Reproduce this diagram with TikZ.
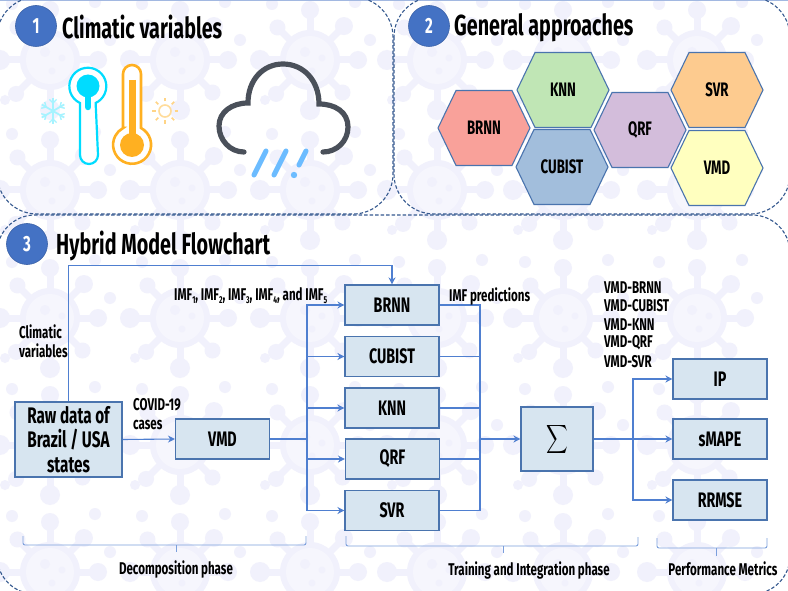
\documentclass[tikz,border=0pt]{standalone}
\usepackage{graphicx}
\usepackage{fontspec}
\setmainfont[FakeStretch=0.68,UprightFont=*-Bold,BoldFont=*-Bold]{Fira Sans}
\usetikzlibrary{arrows.meta,calc}
\definecolor{spike}{HTML}{F1F1FC}
\definecolor{vbody}{HTML}{F6F6FD}
\definecolor{boxfill}{HTML}{D7E5F0}
\definecolor{boxline}{HTML}{4A74AE}
\definecolor{flow}{HTML}{4F7FD0}
\definecolor{panelline}{HTML}{35598F}
\definecolor{badge}{HTML}{4472C4}
\definecolor{coldc}{HTML}{00DCFF}
\definecolor{warmc}{HTML}{FFB021}
\definecolor{cloudc}{HTML}{4A505A}
\definecolor{rainc}{HTML}{6CBCFF}
\definecolor{hg}{HTML}{C0E6B5}
\definecolor{hr}{HTML}{F9A19A}
\definecolor{hb}{HTML}{A2BEDC}
\definecolor{hp}{HTML}{D3BDDB}
\definecolor{ho}{HTML}{FDCB8F}
\definecolor{hy}{HTML}{FFFFBF}
\tikzset{
  boxnode/.style={draw=boxline,fill=boxfill,line width=1.1pt,minimum width=94pt,minimum height=40pt,inner sep=0pt,font=\fontsize{21}{21}\selectfont},
  flowline/.style={draw=flow,line width=1.1pt},
  flowarrow/.style={flowline,-{Stealth[length=7pt,width=7pt]}},
  panel/.style={draw=panelline,line width=1.1pt,dash pattern=on 3.5pt off 2pt,rounded corners=40pt},
  badgenode/.style={circle,fill=badge,draw=badge!85!black,line width=0.6pt,minimum size=41pt,inner sep=0pt,text=white,font=\fontsize{22}{22}\selectfont},
  titlenode/.style={anchor=west,inner sep=0pt,font=\fontsize{29}{29}\selectfont},
  lab/.style={inner sep=0pt,font=\fontsize{17}{17}\selectfont},
  labw/.style={lab,anchor=west},
  hexlabel/.style={inner sep=0pt,font=\fontsize{19.5}{19.5}\selectfont},
  bracket/.style={draw=flow!75!white,line width=0.9pt,rounded corners=2pt},
}
\newcommand{\hexa}[5]{%
  \fill[#4,draw=boxline,line width=1.1pt] (#2-46,#3) -- (#2-28,#3-37.5) -- (#2+28,#3-37.5) -- (#2+46,#3) -- (#2+28,#3+37.5) -- (#2-28,#3+37.5) -- cycle;
  \node[hexlabel] (#1) at (#2,#3) {#5};}
\newcommand{\virus}[2]{%
  \begin{scope}[shift={(#1,#2)}]
    \foreach \a/\r/\s in {90/50/10,45/46/8,0/48/9,-45/48/9,-90/50/9,-135/46/8,180/50/10,135/48/8}{
      \draw[spike,line width=7pt] (0,0) -- (\a:\r);
      \fill[spike] (\a:\r) circle (\s);
    }
    \fill[spike] (0,0) circle (30);
    \fill[vbody] (0,0) circle (24);
    \fill[spike] (-5,-8) circle (5) (12,-2) circle (3.5) (2,11) circle (3.5);
    \fill[spike] (-38,-56) circle (6) (45,-58) circle (6) (-45,40) circle (5) (60,-20) circle (6);
  \end{scope}}
\newcommand{\sbs}[1]{\raisebox{-3pt}{\fontsize{10}{10}\selectfont #1}}
\begin{document}
\begin{tikzpicture}[x=1pt,y=-1pt]
\useasboundingbox (0,0) rectangle (788,591);
\clip (0,0) rectangle (788,591);
\fill[white] (0,0) rectangle (788,591);
% background motif
\foreach \y in {60,190,318,445,572}{
  \foreach \x in {50,180,310,437,563,697}{
    \virus{\x}{\y}
  }
}
\draw[color=badge!50!white,line width=1pt] (0,0.5) -- (788,0.5);
% panels
\draw[panel] (-3,-3) rectangle (393,214);
\draw[panel] (394,-3) rectangle (790,214);
\draw[panel,rounded corners=38pt] (-3,215) rectangle (790,594);
% panel 1
\node[badgenode] (b1) at (36,26) {1};
\node[titlenode] (t1) at (62,27) {Climatic variables};
% cold thermometer
\draw[coldc,line width=2.2pt,fill=white] (80,103) arc[start angle=115,end angle=425,radius=18.5] -- (98,155) arc[start angle=0,end angle=180,radius=9] -- cycle;
\fill[coldc] (88,86) circle (11.5);
\draw[coldc,line width=6.5pt,line cap=round] (88,92) -- (88,107);
% warm thermometer
\draw[warmc,line width=2.6pt,fill=white] (123,128) -- (123,74) arc[start angle=180,end angle=360,radius=9] -- (141,128) arc[start angle=-62,end angle=242,radius=19] -- cycle;
\fill[warmc] (132,145) circle (12);
\draw[warmc,line width=7pt] (132,80) -- (132,140);
% snowflake
\begin{scope}[shift={(53,111)}]
  \foreach \a in {30,90,150,210,270,330}{
    \draw[coldc!35!white,line width=1.8pt] (0,0) -- (\a:13);
    \draw[coldc!35!white,line width=1.4pt] (\a:8) -- ++(\a+45:5);
    \draw[coldc!35!white,line width=1.4pt] (\a:8) -- ++(\a-45:5);
  }
\end{scope}
% sun
\begin{scope}[shift={(165,111)}]
  \draw[warmc!45!white,line width=1.6pt] (0,0) circle (6);
  \foreach \a in {0,45,...,315}{
    \draw[warmc!55!white,line width=1.6pt] (\a:9.5) -- (\a:13);
  }
\end{scope}
% cloud
\draw[cloudc,line width=5.2pt,line cap=round] (244,152) .. controls (230,152) and (219,140) .. (219,126)
  .. controls (219,112) and (232,103) .. (248,103)
  .. controls (248,80) and (263,64) .. (283,64)
  .. controls (303,64) and (319,80) .. (319,104)
  .. controls (335,104) and (348,112) .. (348,127)
  .. controls (348,141) and (337,152) .. (323,152);
\draw[rainc,line width=5pt,line cap=round] (266,151) -- (254,175);
\draw[rainc,line width=5pt,line cap=round] (286,151) -- (274,175);
\draw[rainc,line width=5pt,line cap=round] (306,151) -- (299,165);
\fill[rainc] (294,175) circle (3.2);
% panel 2
\node[badgenode] (b2) at (429,26) {2};
\node[titlenode] (t2) at (454,28) {General approaches};
\hexa{hknn}{563}{90}{hg}{KNN}
\hexa{hbrnn}{484}{128}{hr}{BRNN}
\hexa{hcub}{562}{167}{hb}{CUBIST}
\hexa{hqrf}{640}{130}{hp}{QRF}
\hexa{hsvr}{717}{90}{ho}{SVR}
\hexa{hvmd}{717}{168}{hy}{VMD}
% panel 3
\node[badgenode] (b3) at (27,244) {3};
\node[titlenode] (t3) at (56,246) {Hybrid Model Flowchart};
% boxes
\node[boxnode,minimum width=107pt,minimum height=75pt,align=center,font=\fontsize{22.5}{24.5}\selectfont] (raw) at (68.5,439.5) {Raw data of\\Brazil / USA\\states};
\node[boxnode] (vmd) at (222.5,439) {VMD};
\node[boxnode] (brnn) at (392,305) {BRNN};
\node[boxnode] (cub) at (392,356.5) {CUBIST};
\node[boxnode] (knn) at (392,408) {KNN};
\node[boxnode] (qrf) at (392.5,459) {QRF};
\node[boxnode] (svr) at (392,510.5) {SVR};
\node[boxnode,minimum width=72pt,minimum height=64pt] (sum) at (557,439) {\scalebox{1.5}[2]{$\displaystyle\sum$}};
\node[boxnode] (ip) at (720,379) {IP};
\node[boxnode] (smape) at (720,439) {sMAPE};
\node[boxnode] (rrmse) at (720,500) {RRMSE};
% connectors
\coordinate (jl) at (307,439);
\coordinate (jr) at (480,439);
\coordinate (jm) at (633,439);
\draw[flowarrow] (raw.north) -- ++(0,-136) -| (brnn.north);
\draw[flowarrow] (raw.east) -- (vmd.west);
\draw[flowline] (vmd.east) -- (jl);
\foreach \n in {brnn,cub,knn,qrf,svr}{
  \draw[flowarrow] (jl) |- (\n.west);
  \draw[flowline] (\n.east) -| (jr);
}
\draw[flowarrow] (jr) -- (sum.west);
\draw[flowarrow] (sum.east) -- (smape.west);
\draw[flowarrow] (jm) |- (ip.west);
\draw[flowarrow] (jm) |- (rrmse.west);
% labels
\node[labw] (l1) at (19,332) {Climatic};
\node[labw] (l2) at (19,351) {variables};
\node[labw] (l3) at (133,405) {COVID-19};
\node[labw] (l4) at (133,424.5) {cases};
\node[labw] (l5) at (174,296) {IMF\sbs{1}, IMF\sbs{2}, IMF\sbs{3}, IMF\sbs{4}, and IMF\sbs{5}};
\node[labw] (l6) at (449,296) {IMF predictions};
\node[labw] (m1) at (604,288) {VMD-BRNN};
\node[labw] (m2) at (604,306) {VMD-CUBIST};
\node[labw] (m3) at (604,325) {VMD-KNN};
\node[labw] (m4) at (604,343) {VMD-QRF};
\node[labw] (m5) at (604,361.5) {VMD-SVR};
% brackets
\draw[bracket] (23,536) -- (23,545) -- (306,545) -- (306,536);
\draw[flow!75!white,line width=0.9pt] (176,545) -- (176,552);
\draw[bracket] (346,536) -- (346,546) -- (638,546) -- (638,537);
\draw[flow!75!white,line width=0.9pt] (503,546) -- (503,553);
\draw[bracket] (657,538) -- (657,548) -- (767,548) -- (767,538);
\draw[flow!75!white,line width=0.9pt] (716,548) -- (716,556);
\node[lab] (p1) at (176,569) {Decomposition phase};
\node[lab] (p2) at (529,570) {Training and Integration phase};
\node[lab] (p3) at (723,569) {Performance Metrics};
\end{tikzpicture}
\end{document}
